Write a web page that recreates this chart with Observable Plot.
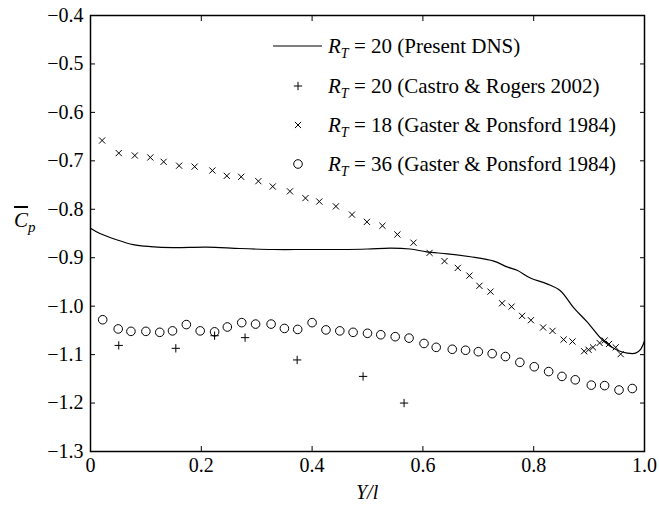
<!DOCTYPE html>
<html>
<head>
<meta charset="utf-8">
<script src="https://cdn.jsdelivr.net/npm/d3@7"></script>
<script src="https://cdn.jsdelivr.net/npm/@observablehq/plot@0.6"></script>
<style>
  html, body { margin: 0; padding: 0; background: #fff; }
  #wrap { position: relative; width: 659px; height: 509px; font-family: "Liberation Serif", "Times New Roman", Times, "DejaVu Serif", serif; color: #000; }
  .ov { position: absolute; white-space: nowrap; line-height: 1; }
  .it { font-style: italic; }
  .leg { position: absolute; left: 0; top: 0; }
  .row { position: absolute; left: 328px; font-size: 21px; white-space: nowrap; transform: translateY(-50%); line-height: 1; }
  sub { font-size: 14px; vertical-align: -5px; line-height: 0; }
  svg text { font-family: "Liberation Serif", "Times New Roman", Times, "DejaVu Serif", serif; }
</style>
</head>
<body>
<div id="wrap"></div>
<script>
// ---- Data ----
// Present DNS, R_T = 20 (line)
const dnsX = [0, 0.017, 0.047, 0.077, 0.108, 0.150, 0.21, 0.27, 0.33, 0.39, 0.45, 0.50, 0.541, 0.577, 0.607, 0.644, 0.686, 0.728, 0.752, 0.770, 0.794, 0.824, 0.848, 0.872, 0.896, 0.926, 0.951, 0.969, 0.984, 0.993, 1.0];
const dnsY = [-0.839, -0.850, -0.863, -0.873, -0.877, -0.879, -0.878, -0.881, -0.883, -0.883, -0.883, -0.882, -0.880, -0.882, -0.888, -0.892, -0.898, -0.907, -0.919, -0.926, -0.942, -0.954, -0.968, -1.003, -1.032, -1.072, -1.091, -1.097, -1.097, -1.089, -1.072];

// Castro & Rogers 2002, R_T = 20 (+)
const crX = [0.051, 0.154, 0.224, 0.279, 0.373, 0.492, 0.566];
const crY = [-1.081, -1.087, -1.061, -1.065, -1.111, -1.145, -1.200];

// Gaster & Ponsford 1984, R_T = 18 (x)
const gp18X = [0.021, 0.051, 0.080, 0.108, 0.132, 0.160, 0.188, 0.220, 0.246, 0.272, 0.303, 0.329, 0.360, 0.388, 0.413, 0.443, 0.472, 0.499, 0.527, 0.554, 0.583, 0.612, 0.639, 0.663, 0.684, 0.702, 0.722, 0.743, 0.760, 0.779, 0.795, 0.817, 0.834, 0.854, 0.870, 0.891, 0.899, 0.907, 0.919, 0.928, 0.936, 0.948, 0.957];
const gp18Y = [-0.658, -0.684, -0.689, -0.693, -0.702, -0.710, -0.712, -0.720, -0.731, -0.733, -0.742, -0.753, -0.763, -0.777, -0.784, -0.794, -0.811, -0.826, -0.834, -0.852, -0.869, -0.890, -0.907, -0.921, -0.937, -0.958, -0.970, -0.994, -1.001, -1.020, -1.029, -1.044, -1.051, -1.069, -1.073, -1.093, -1.090, -1.085, -1.076, -1.071, -1.078, -1.085, -1.099];

// Gaster & Ponsford 1984, R_T = 36 (o)
const gp36X = [0.022, 0.050, 0.073, 0.100, 0.125, 0.148, 0.173, 0.198, 0.224, 0.247, 0.273, 0.298, 0.326, 0.350, 0.374, 0.400, 0.425, 0.450, 0.474, 0.500, 0.524, 0.550, 0.575, 0.602, 0.624, 0.653, 0.677, 0.700, 0.725, 0.749, 0.775, 0.801, 0.827, 0.851, 0.875, 0.904, 0.928, 0.954, 0.978];
const gp36Y = [-1.028, -1.047, -1.052, -1.052, -1.054, -1.051, -1.038, -1.051, -1.053, -1.043, -1.034, -1.037, -1.037, -1.046, -1.048, -1.034, -1.049, -1.051, -1.054, -1.056, -1.059, -1.063, -1.066, -1.077, -1.085, -1.089, -1.091, -1.094, -1.098, -1.104, -1.116, -1.125, -1.135, -1.145, -1.152, -1.163, -1.164, -1.173, -1.170];

const xTicks = [0, 0.2, 0.4, 0.6, 0.8, 1.0];
const yTicks = [-0.4, -0.5, -0.6, -0.7, -0.8, -0.9, -1.0, -1.1, -1.2, -1.3];

const legendLabels = [
  ["20", "(Present DNS)"],
  ["20", "(Castro &amp; Rogers 2002)"],
  ["18", "(Gaster &amp; Ponsford 1984)"],
  ["36", "(Gaster &amp; Ponsford 1984)"]
];

// ---- Build ----
const idx = a => a.map((_, i) => i);
const fmtY = d => d3.format(".1f")(d);
const fmtX = d => d === 0 ? "0" : d3.format(".1f")(d);
const SERIF = "'Liberation Serif', 'Times New Roman', Times, 'DejaVu Serif', serif";

const chart = Plot.plot({
  width: 659,
  height: 509,
  marginLeft: 90,
  marginRight: 15,
  marginTop: 15,
  marginBottom: 58,
  style: { fontFamily: SERIF, fontSize: "20px", background: "white", overflow: "visible" },
  x: { domain: [0, 1], ticks: xTicks, tickFormat: fmtX, label: null },
  y: { domain: [-1.3, -0.4], ticks: yTicks, tickFormat: fmtY, label: null },
  marks: [
    Plot.axisX({ anchor: "bottom", ticks: xTicks, tickFormat: fmtX, tickSize: -5, tickPadding: 11, label: null, fontSize: 20 }),
    Plot.axisX({ anchor: "top", ticks: xTicks, tickFormat: () => "", tickSize: -5, label: null }),
    Plot.axisY({ anchor: "left", ticks: yTicks, tickFormat: fmtY, tickSize: -5, tickPadding: 12, label: null, fontSize: 20 }),
    Plot.axisY({ anchor: "right", ticks: yTicks, tickFormat: () => "", tickSize: -5, label: null }),
    Plot.line(idx(dnsX), { x: i => dnsX[i], y: i => dnsY[i], curve: "catmull-rom", stroke: "black", strokeWidth: 1.2 }),
    Plot.dot(idx(crX), { x: i => crX[i], y: i => crY[i], symbol: "plus", r: 2.8, stroke: "black", strokeWidth: 1 }),
    Plot.dot(idx(gp18X), { x: i => gp18X[i], y: i => gp18Y[i], symbol: "times", r: 2.9, stroke: "black", strokeWidth: 1 }),
    Plot.dot(idx(gp36X), { x: i => gp36X[i], y: i => gp36Y[i], symbol: "circle", r: 4.3, stroke: "black", strokeWidth: 1, fill: "none" }),
    Plot.frame({ stroke: "black", strokeWidth: 1.5 })
  ]
});

const wrap = document.getElementById("wrap");
wrap.appendChild(chart);

// Axis titles
const yl = document.createElement("div");
yl.className = "ov it";
yl.style.left = "14px";
yl.style.top = "210px";
yl.style.fontSize = "21px";
yl.innerHTML = '<span style="text-decoration: overline;">C</span><sub style="font-size:15px">p</sub>';
wrap.appendChild(yl);

const xl = document.createElement("div");
xl.className = "ov it";
xl.style.left = "356px";
xl.style.top = "482px";
xl.style.fontSize = "20px";
xl.textContent = "Y/l";
wrap.appendChild(xl);

// Legend
const rowsY = [46, 86, 125, 164];
const leg = d3.select(wrap).append("svg")
  .attr("class", "leg").attr("width", 659).attr("height", 509)
  .style("pointer-events", "none");
leg.append("line").attr("x1", 273).attr("x2", 322).attr("y1", rowsY[0]).attr("y2", rowsY[0]).attr("stroke", "black").attr("stroke-width", 1.2);
leg.append("path").attr("transform", `translate(298,${rowsY[1]})`).attr("d", d3.symbol(d3.symbolPlus, 2.8 * 2.8 * Math.PI)()).attr("stroke", "black").attr("fill", "none");
leg.append("path").attr("transform", `translate(298,${rowsY[2]})`).attr("d", d3.symbol(d3.symbolTimes, 2.9 * 2.9 * Math.PI)()).attr("stroke", "black").attr("fill", "none");
leg.append("circle").attr("cx", 298).attr("cy", rowsY[3]).attr("r", 4.3).attr("stroke", "black").attr("fill", "none");

legendLabels.forEach((l, i) => {
  const r = document.createElement("div");
  r.className = "row";
  r.style.top = rowsY[i] + "px";
  r.innerHTML = `<span class="it">R<sub>T</sub></span> = ${l[0]} ${l[1]}`;
  wrap.appendChild(r);
});
</script>
</body>
</html>
